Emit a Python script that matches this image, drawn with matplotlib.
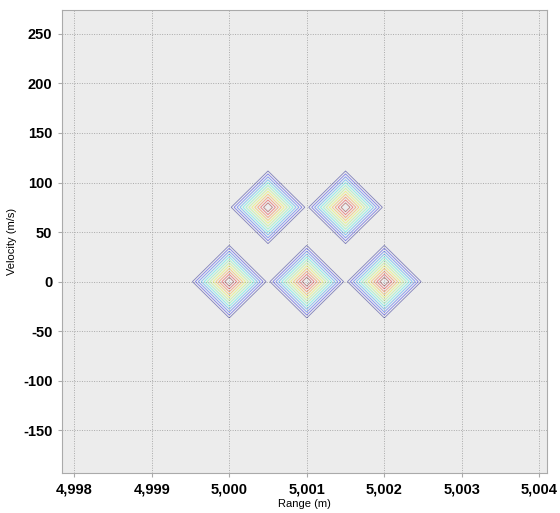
import numpy as np
import matplotlib
matplotlib.use("Agg")
import matplotlib.pyplot as plt
from matplotlib.ticker import FuncFormatter

# Target positions (range m, velocity m/s)
target_range = [5000.0, 5001.0, 5002.0, 5000.5, 5001.5]
target_velocity = [0.0, 0.0, 0.0, 75.0, 75.0]
range_halfwidth = 0.48
velocity_halfwidth = 37.0

x_ticks = [4998, 4999, 5000, 5001, 5002, 5003, 5004]
y_ticks = [-150, -100, -50, 0, 50, 100, 150, 200, 250]

plt.rcParams['font.family'] = ['Liberation Sans', 'DejaVu Sans']
plt.rcParams['axes.unicode_minus'] = False

fig = plt.figure(figsize=(5.6, 5.13), dpi=100)
ax = fig.add_axes([0.111, 0.078, 0.866, 0.9025])
ax.set_facecolor('#ececec')

xg = np.linspace(4997.8, 5004.2, 1300)
vg = np.linspace(-200, 280, 1300)
X, V = np.meshgrid(xg, vg)
Z = np.zeros_like(X)
for r, v in zip(target_range, target_velocity):
    Z = np.maximum(Z, 1 - np.abs(X - r) / range_halfwidth - np.abs(V - v) / velocity_halfwidth)
levels = np.linspace(0.01, 0.88, 12)
ax.contour(X, V, Z, levels=levels, cmap='jet', linewidths=0.6, alpha=0.45)

ax.set_xlim(4997.845, 5004.10)
ax.set_ylim(-193, 274)
ax.set_xticks(x_ticks)
ax.set_yticks(y_ticks)
ax.xaxis.set_major_formatter(FuncFormatter(lambda x, p: f"{int(round(x)):,}"))
ax.grid(True, color='#aaaaaa', linestyle=(0, (1, 1.5)), linewidth=0.7)
ax.set_axisbelow(True)
for s in ax.spines.values():
    s.set_color('#aaaaaa')
    s.set_linewidth(0.8)
ax.tick_params(direction='out', length=3, color='#aaaaaa', labelsize=10.5, pad=4)
for lab in ax.get_xticklabels() + ax.get_yticklabels():
    lab.set_fontweight('bold')
ax.set_xlabel('Range (m)', fontsize=8, labelpad=2)
ax.set_ylabel('Velocity (m/s)', fontsize=8, labelpad=4)

fig.savefig('out.png', dpi=100)
